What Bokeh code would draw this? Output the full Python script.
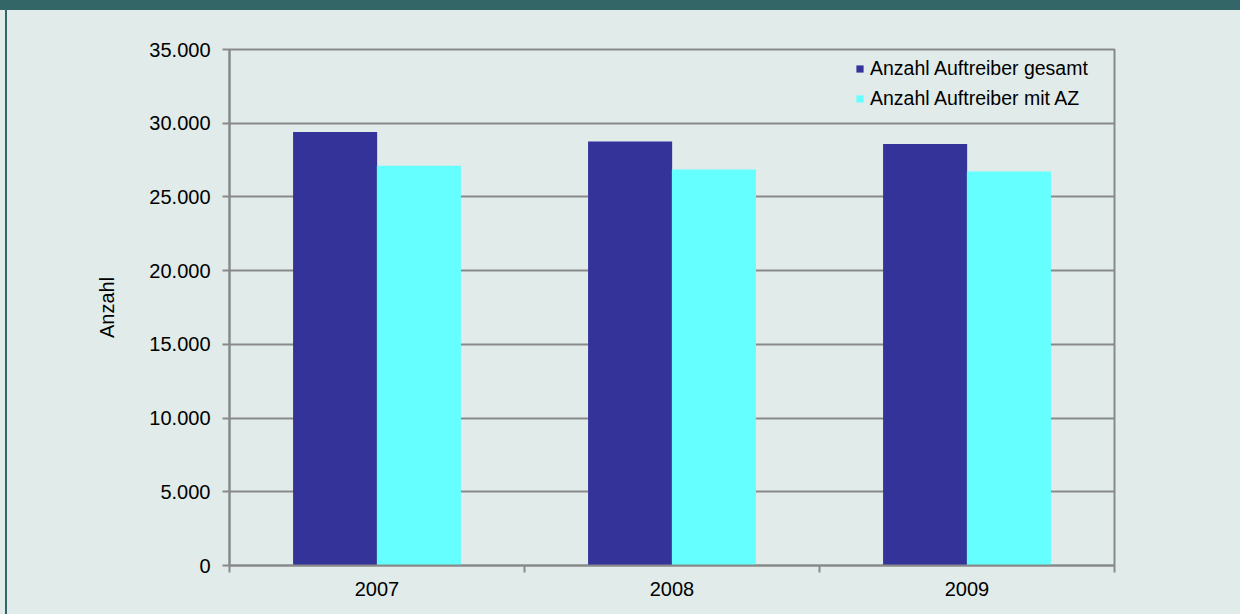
from bokeh.plotting import figure
from bokeh.models import Range1d, FixedTicker, Legend, LegendItem
from bokeh.embed import file_html
from bokeh.resources import INLINE

# ---- data ----
years = ["2007", "2008", "2009"]
gesamt = [29400, 28760, 28590]
mit_az = [27110, 26860, 26720]
series_names = ["Anzahl Auftreiber gesamt", "Anzahl Auftreiber mit AZ"]
y_ticks = [0, 5000, 10000, 15000, 20000, 25000, 30000, 35000]
y_label = "Anzahl"

# ---- styles ----
BG = "#E1EBEA"
TEAL = "#336666"
GRID = "#898989"
DARK = "#333399"
CYAN = "#66FFFF"
FONT = "Liberation Sans"
FS = "20px"

W, H = 1240, 614

p = figure(width=W, height=H, output_backend="svg", toolbar_location=None,
           x_range=Range1d(0, len(years)), y_range=Range1d(y_ticks[0], y_ticks[-1]),
           min_border_left=229, min_border_right=126, min_border_top=49,
           min_border_bottom=H - 565)

p.background_fill_color = BG
p.border_fill_alpha = 0
# background behind the transparent border area: teal header band,
# thin teal left rule and light chart background
p.styles = {
    "background": (f"linear-gradient({TEAL}, {TEAL}) 0px 0px / 100% 10px no-repeat, "
                   f"linear-gradient({TEAL}, {TEAL}) 5px 0px / 2px 100% no-repeat, "
                   f"{BG}"),
    "position": "fixed",
    "top": "0px",
    "left": "0px",
}
p.outline_line_color = GRID
p.outline_line_width = 2

centers = [i + 0.5 for i in range(len(years))]
bw = 0.285
off = 0.142
r1 = p.vbar(x=[c - off for c in centers], top=gesamt, width=bw, bottom=0,
            fill_color=DARK, line_color=None)
r2 = p.vbar(x=[c + off for c in centers], top=mit_az, width=bw, bottom=0,
            fill_color=CYAN, line_color=None)

# axes
p.xgrid.visible = False
p.ygrid.grid_line_color = GRID
p.ygrid.grid_line_width = 2
p.ygrid.ticker = FixedTicker(ticks=y_ticks)

ya = p.yaxis[0]
ya.ticker = FixedTicker(ticks=y_ticks)
ya.major_label_overrides = {t: f"{t:,}".replace(",", ".") for t in y_ticks}
ya.axis_line_color = GRID
ya.axis_line_width = 2
ya.major_tick_line_color = GRID
ya.major_tick_line_width = 2
ya.major_tick_in = 0
ya.major_tick_out = 7
ya.minor_tick_line_color = None
ya.major_label_text_font = FONT
ya.major_label_text_font_size = FS
ya.major_label_text_color = "#000000"
ya.major_label_standoff = 12
ya.axis_label = y_label
ya.axis_label_text_font = FONT
ya.axis_label_text_font_size = FS
ya.axis_label_text_font_style = "normal"
ya.axis_label_text_color = "#000000"
ya.axis_label_standoff = 28

xa = p.xaxis[0]
xa.ticker = FixedTicker(ticks=centers, minor_ticks=list(range(len(years) + 1)))
xa.major_label_overrides = {c: y for c, y in zip(centers, years)}
xa.axis_line_color = GRID
xa.axis_line_width = 2
xa.major_tick_line_color = None
xa.major_tick_in = 0
xa.major_tick_out = 0
xa.minor_tick_line_color = GRID
xa.minor_tick_line_width = 2
xa.minor_tick_in = 0
xa.minor_tick_out = 7
xa.major_label_text_font = FONT
xa.major_label_text_font_size = FS
xa.major_label_text_color = "#000000"
xa.major_label_standoff = 9

# legend
legend = Legend(items=[LegendItem(label=series_names[0], renderers=[r1]),
                       LegendItem(label=series_names[1], renderers=[r2])],
                location=(626, 455), orientation="vertical")
legend.background_fill_alpha = 0
legend.border_line_alpha = 0
legend.padding = 0
legend.margin = 0
legend.spacing = 7
legend.glyph_width = 9
legend.glyph_height = 9
legend.label_standoff = 6
legend.label_height = 20
legend.label_text_font = FONT
legend.label_text_font_size = "19.5px"
legend.label_text_color = "#000000"
p.add_layout(legend, "center")

open("out.html", "w").write(file_html(p, INLINE))
